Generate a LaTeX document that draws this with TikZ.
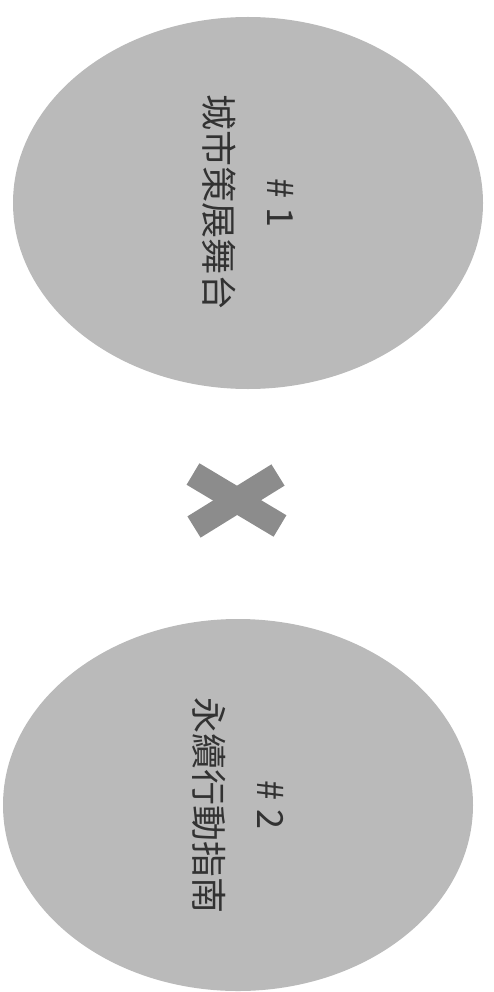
\documentclass[tikz,border=0pt]{standalone}
\usepackage{fontspec}
\newfontfamily\cjk{Noto Sans CJK TC}
\usetikzlibrary{shapes.geometric}
\definecolor{ellfill}{RGB}{186,186,186}
\definecolor{crossfill}{RGB}{140,140,140}
\definecolor{txt}{RGB}{50,50,50}
\tikzset{
  blob/.style={ellipse, fill=ellfill, inner sep=0pt, rotate=-90,
    minimum width=372pt, minimum height=470pt, align=center,
    text=txt, font=\cjk\fontsize{36}{62}\selectfont},
  crossbar/.style={draw=crossfill, line width=25pt, line cap=butt}
}
\begin{document}
\begin{tikzpicture}[x=1pt,y=-1pt]
\useasboundingbox (0,0) rectangle (494,992);
\node[blob] (e1) at (248,203) {\# 1\\城市策展舞台};
\node[blob] (e2) at (238,805) {\# 2\\永續行動指南};
\coordinate (xa) at (193,474);
\coordinate (xb) at (280,526);
\coordinate (xc) at (194,527);
\coordinate (xd) at (278,475);
\draw[crossbar] (xa) -- (xb);
\draw[crossbar] (xc) -- (xd);
\end{tikzpicture}
\end{document}
